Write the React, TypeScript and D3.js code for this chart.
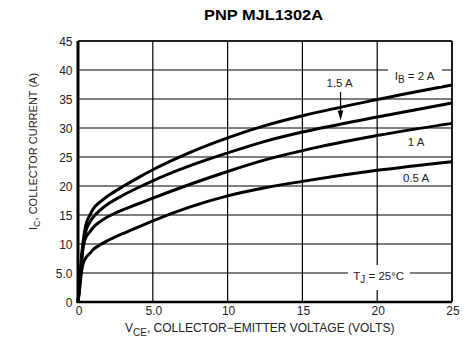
import React from "react";
import * as d3 from "d3";

const vce = [0, 0.1, 0.2, 0.3, 0.5, 0.8, 1, 1.5, 2, 3, 4, 5, 7.5, 10, 12.5, 15, 20, 25];
const ib2 = [0, 3, 6.5, 9.5, 13.0, 15.0, 16.0, 17.3, 18.3, 19.9, 21.4, 22.8, 25.8, 28.3, 30.4, 32.1, 34.9, 37.4];
const ib15 = [0, 2.8, 6, 9, 12.0, 13.8, 14.6, 15.9, 16.9, 18.4, 19.7, 20.9, 23.5, 25.7, 27.7, 29.3, 31.9, 34.3];
const ib1 = [0, 2.5, 5.5, 8.5, 11.0, 12.1, 12.8, 13.9, 14.7, 15.9, 16.9, 17.9, 20.3, 22.5, 24.5, 26.1, 28.7, 30.8];
const ib05 = [0, 2, 4.5, 6.2, 7.5, 8.4, 9.0, 9.9, 10.6, 11.8, 12.9, 14.0, 16.4, 18.3, 19.7, 20.8, 22.7, 24.2];
const seriesList = [ib2, ib15, ib1, ib05];

const xTicks = [0, 5, 10, 15, 20, 25];
const xTickLabels = ["0", "5.0", "10", "15", "20", "25"];
const yTicks = [0, 5, 10, 15, 20, 25, 30, 35, 40, 45];
const yTickLabels = ["0", "5.0", "10", "15", "20", "25", "30", "35", "40", "45"];

export default function App() {
  const x = d3.scaleLinear().domain([0, 25]).range([78, 452]);
  const y = d3.scaleLinear().domain([0, 45]).range([302, 41]);
  const line = d3
    .line<number>()
    .x((_, i) => x(vce[i]))
    .y((d) => y(d))
    .curve(d3.curveMonotoneX);
  const font = "Arial, 'Liberation Sans', Helvetica, sans-serif";
  const tc = "#222";

  const arrowX = x(17.55);
  const arrowTop = y(36.2);
  const arrowTip = y(31.3);

  return (
    <svg
      width={471}
      height={351}
      style={{ position: "absolute", left: 0, top: 0, background: "#fff" }}
      fontFamily={font}
    >
      <rect x={0} y={0} width={471} height={351} fill="#fff" />
      <text x={263.5} y={20} textAnchor="middle" fontWeight="bold" fontSize={14} textLength={119} lengthAdjust="spacingAndGlyphs" fill="#000">
        PNP MJL1302A
      </text>
      {/* grid */}
      {xTicks.map((t) => (
        <line key={"gx" + t} x1={x(t)} x2={x(t)} y1={y(0)} y2={y(45)} stroke="#000" strokeWidth={1.2} />
      ))}
      {yTicks.map((t) => (
        <line key={"gy" + t} x1={x(0)} x2={x(25)} y1={y(t)} y2={y(t)} stroke="#000" strokeWidth={1.2} />
      ))}
      {/* axes */}
      <line x1={x(0)} x2={x(0)} y1={y(0) + 1} y2={y(45)} stroke="#000" strokeWidth={3} />
      <line x1={x(0) - 1.5} x2={x(25)} y1={y(0)} y2={y(0)} stroke="#000" strokeWidth={2.5} />
      <line x1={x(0)} x2={x(25)} y1={y(45)} y2={y(45)} stroke="#000" strokeWidth={1.5} />
      <line x1={x(25)} x2={x(25)} y1={y(0)} y2={y(45)} stroke="#000" strokeWidth={1.5} />

      {/* tick labels */}
      {yTicks.map((t, i) => (
        <text key={"ly" + t} x={72.5} y={y(t) + 4.5} textAnchor="end" fontSize={12} fill={tc}>
          {yTickLabels[i]}
        </text>
      ))}
      {xTicks.map((t, i) => (
        <text key={"lx" + t} x={x(t) + 1} y={314.5} textAnchor="middle" fontSize={12} fill={tc}>
          {xTickLabels[i]}
        </text>
      ))}

      {/* axis titles */}
      <text x={125} y={332} fontSize={12} fill={tc}>
        <tspan>V</tspan>
        <tspan dy={3.5} fontSize={10}>CE</tspan>
        <tspan dy={-3.5}>, COLLECTOR−EMITTER VOLTAGE (VOLTS)</tspan>
      </text>
      <text transform="translate(37,230) rotate(-90)" fontSize={11} fill={tc}>
        <tspan>I</tspan>
        <tspan dy={3} fontSize={9}>C</tspan>
        <tspan dy={-3}>, COLLECTOR CURRENT (A)</tspan>
      </text>

      {/* curves */}
      {seriesList.map((s, i) => (
        <path key={"c" + i} d={line(s) || ""} fill="none" stroke="#000" strokeWidth={3} strokeLinejoin="round" />
      ))}

      {/* annotations */}
      <rect x={388} y={64} width={54} height={22} fill="#fff" />
      <text x={x(22.5)} y={y(38.3)} textAnchor="middle" fontSize={11.5} fill={tc}>
        <tspan>I</tspan>
        <tspan dy={3} fontSize={10}>B</tspan>
        <tspan dy={-3}> = 2 A</tspan>
      </text>
      <text x={x(17.49)} y={y(37.1)} textAnchor="middle" fontSize={11.5} fill={tc}>1.5 A</text>
      <line x1={arrowX} x2={arrowX} y1={arrowTop} y2={arrowTip - 8} stroke="#000" strokeWidth={1.2} />
      <path
        d={`M${arrowX - 2.8},${arrowTip - 10}L${arrowX + 2.8},${arrowTip - 10}L${arrowX},${arrowTip}Z`}
        fill="#000"
      />
      <text x={x(22.6)} y={y(26.9)} textAnchor="middle" fontSize={11.5} fill={tc}>1 A</text>
      <text x={x(22.6)} y={y(20.7)} textAnchor="middle" fontSize={11.5} fill={tc}>0.5 A</text>

      <rect x={348} y={265} width={62} height={25} fill="#fff" />
      <text x={x(20.1)} y={y(3.8)} textAnchor="middle" fontSize={11.5} fill={tc}>
        <tspan>T</tspan>
        <tspan dy={3} fontSize={10}>J</tspan>
        <tspan dy={-3}> = 25°C</tspan>
      </text>
    </svg>
  );
}
